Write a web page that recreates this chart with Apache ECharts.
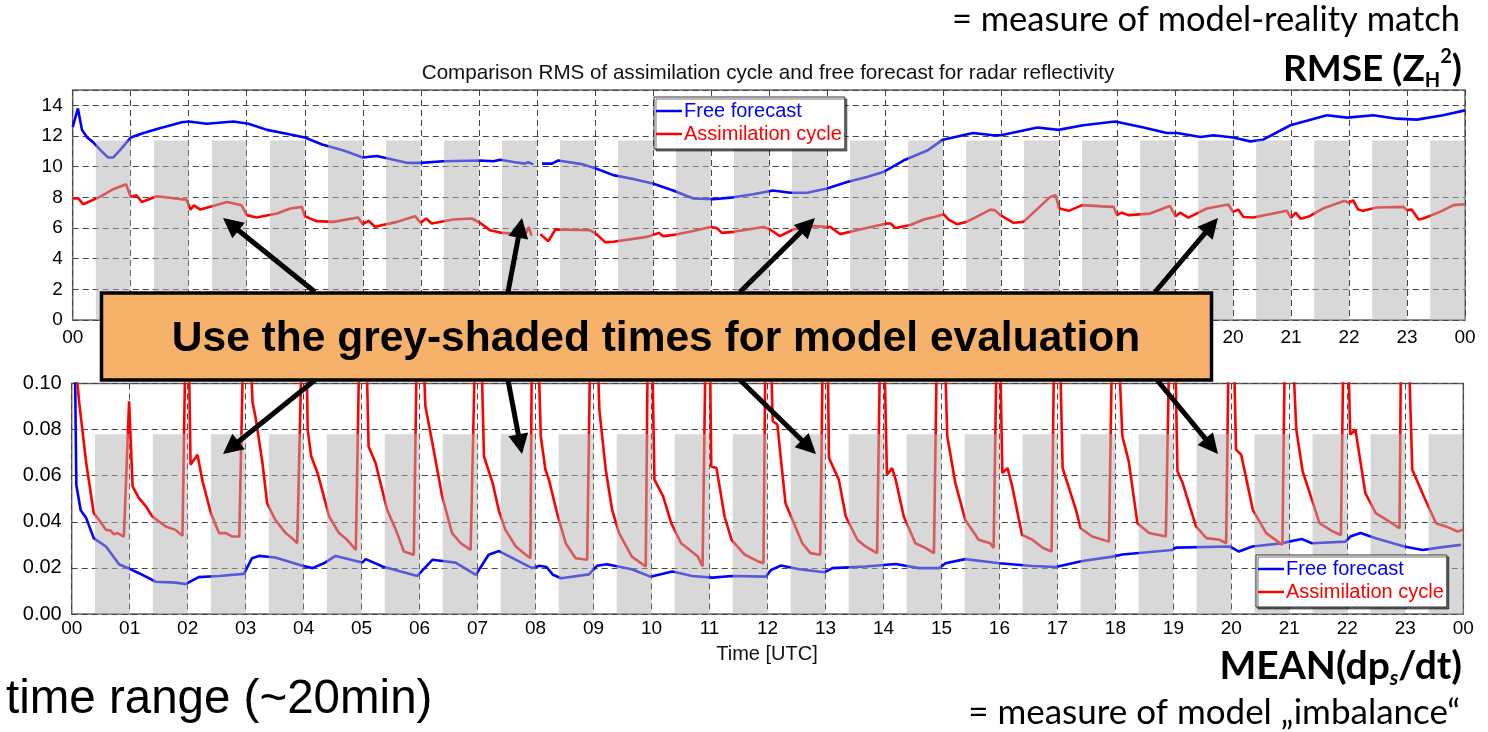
<!DOCTYPE html>
<html>
<head>
<meta charset="utf-8">
<script src="https://cdn.jsdelivr.net/npm/echarts@6/dist/echarts.min.js"></script>
<style>
html,body{margin:0;padding:0;background:#fff;}
#chart{width:1488px;height:732px;}
</style>
</head>
<body>
<div id="chart"></div>
<script>
// ---------------- DATA ----------------
const hourLabels = ['00','01','02','03','04','05','06','07','08','09','10','11','12','13','14','15','16','17','18','19','20','21','22','23','00'];

// grey-shaded evaluation windows (hours UTC)
const shadeStart = [0.4,1.4,2.4,3.4,4.4,5.4,6.4,7.4,8.4,9.4,10.4,11.4,12.4,13.4,14.4,15.4,16.4,17.4,18.4,19.4,20.4,21.4,22.4,23.4];
const shadeEnd   = [1,2,3,4,5,6,7,8,9,10,11,12,13,14,15,16,17,18,19,20,21,22,23,24];
const shadeTopRmse = 11.7;
const shadeTopMean = 0.078;

// RMSE panel - free forecast
const rmseFreeT = [0,0.09,0.16,0.25,0.35,0.5,0.61,0.7,0.82,1.0,1.22,1.5,1.88,2.0,2.31,2.77,3.03,3.35,3.69,4.0,4.3,4.67,5.0,5.24,5.47,5.76,6.0,6.39,7.02,7.25,7.37,7.6,7.8,7.85,7.94,8.0,8.09,8.26,8.37,8.8,9.04,9.32,9.66,10.0,10.35,10.7,11.04,11.39,11.73,12.07,12.37,12.66,13.0,13.35,13.69,13.97,14.32,14.73,15.0,15.52,15.87,16.0,16.63,16.99,17.42,17.97,18.46,18.86,19.04,19.44,19.67,20.0,20.3,20.52,20.99,21.62,21.97,22.42,22.83,23.17,23.62,24.0];
const rmseFreeV = [12.6,13.8,12.4,11.9,11.6,11.0,10.6,10.6,11.1,11.9,12.2,12.5,12.9,12.95,12.8,12.95,12.8,12.4,12.15,11.9,11.45,11.05,10.6,10.7,10.5,10.25,10.25,10.35,10.4,10.35,10.45,10.3,10.2,10.3,10.15,null,10.2,10.2,10.4,10.15,9.85,9.45,9.2,8.9,8.45,7.92,7.88,8.0,8.2,8.45,8.3,8.3,8.57,9.0,9.33,9.65,10.4,11.05,11.76,12.2,12.05,12.05,12.55,12.4,12.7,12.95,12.55,12.2,12.2,11.93,12.05,11.9,11.65,11.76,12.7,13.35,13.2,13.35,13.13,13.07,13.35,13.67];

// RMSE panel - assimilation cycle
const rmseAssimT = [0,0.1,0.18,0.47,0.7,0.92,1.0,1.1,1.19,1.45,1.91,1.96,2.03,2.09,2.2,2.66,2.91,3.0,3.17,3.52,3.75,3.95,4.0,4.2,4.49,4.92,5.0,5.1,5.21,5.59,5.9,6.0,6.09,6.19,6.56,6.88,7.02,7.19,7.37,7.8,7.86,7.91,7.98,8.06,8.2,8.32,8.92,9.03,9.18,9.32,9.9,10.1,10.18,10.36,10.7,10.99,11.1,11.19,11.39,11.91,12.02,12.19,12.42,12.77,13.06,13.23,13.57,14.03,14.1,14.18,14.44,14.67,14.85,15.01,15.1,15.24,15.41,15.82,15.9,15.99,16.22,16.39,16.85,16.94,17.01,17.17,17.4,17.89,17.94,18.0,18.08,18.2,18.57,18.91,19.01,19.09,19.23,19.55,19.92,20.0,20.09,20.18,20.35,20.93,21.0,21.08,21.17,21.32,21.55,21.92,22.0,22.07,22.16,22.24,22.48,22.94,23.0,23.08,23.2,23.28,23.57,23.8,24.0];
const rmseAssimV = [7.92,7.92,7.55,8.03,8.53,8.85,8.03,8.14,7.7,8.07,7.86,7.86,7.2,7.48,7.2,7.7,7.48,6.84,6.68,6.94,7.27,7.38,6.77,6.45,6.4,6.68,6.25,6.47,6.08,6.4,6.77,6.34,6.62,6.29,6.55,6.62,6.34,5.86,5.7,5.55,6.07,5.5,null,5.6,5.14,5.9,5.85,5.6,5.06,5.1,5.42,5.68,5.47,5.55,5.81,6.07,6.0,5.68,5.75,6.07,5.9,5.47,5.9,6.12,6.07,5.6,5.9,6.29,6.29,6.0,6.2,6.55,6.72,6.9,6.55,6.25,6.4,7.2,7.15,6.84,6.34,6.4,8.03,8.14,7.27,7.12,7.49,7.38,7.4,6.84,7.0,6.84,6.94,7.44,6.77,7.0,6.68,7.27,7.53,7.05,7.2,6.72,6.68,7.12,6.66,7.0,6.6,6.77,7.27,7.77,7.65,7.81,7.2,7.12,7.34,7.38,7.16,7.2,6.55,6.62,7.05,7.49,7.55];

// MEAN(dps/dt) panel - free forecast
const meanFreeT = [0,0.06,0.08,0.155,0.25,0.38,0.59,0.82,1.0,1.16,1.45,1.79,1.96,2.19,2.54,2.97,3.11,3.23,3.51,3.98,4.15,4.35,4.55,5.01,5.07,5.36,5.96,6.22,6.62,6.97,7.19,7.37,7.94,8.07,8.19,8.3,8.44,8.92,9.06,9.23,9.66,9.98,10.36,10.7,11.05,11.39,11.97,12.06,12.23,12.55,12.98,13.12,13.69,14.21,14.61,14.96,15.07,15.41,16.0,16.57,16.97,17.43,17.95,18.12,18.98,19.04,19.97,20.13,20.36,20.88,20.99,21.22,21.39,21.97,22.05,22.23,22.49,22.98,23.3,23.64,23.96];
const meanFreeV = [0.14,0.10,0.056,0.045,0.0416,0.0329,0.0293,0.0215,0.0196,0.0177,0.014,0.0136,0.013,0.016,0.0165,0.0174,0.0242,0.0252,0.0245,0.0209,0.0199,0.022,0.0252,0.0223,0.0238,0.0206,0.0165,0.0235,0.0223,0.017,0.0257,0.0273,0.0199,0.0209,0.0204,0.017,0.0155,0.0172,0.0209,0.0216,0.0194,0.0162,0.0184,0.0165,0.0158,0.0165,0.0162,0.0191,0.021,0.0194,0.0181,0.0199,0.0206,0.0217,0.0199,0.0199,0.022,0.0238,0.022,0.0208,0.0204,0.023,0.0249,0.0258,0.0278,0.0288,0.0293,0.0271,0.0293,0.0307,0.0314,0.0325,0.0307,0.0314,0.0336,0.0351,0.0329,0.0293,0.0278,0.029,0.03];

// MEAN(dps/dt) panel - assimilation cycle (values above 0.10 leave the plot)
const meanAssimT = [0,0.06,0.13,0.25,0.38,0.47,0.59,0.67,0.73,0.79,0.9,0.93,0.99,1.05,1.16,1.28,1.39,1.62,1.79,1.91,1.97,2.01,2.05,2.17,2.25,2.4,2.54,2.66,2.77,2.89,2.97,3.05,3.12,3.17,3.29,3.37,3.51,3.69,3.8,3.89,3.98,4.04,4.07,4.13,4.24,4.44,4.61,4.75,4.9,4.97,5.07,5.12,5.24,5.44,5.59,5.73,5.9,5.96,6.04,6.1,6.22,6.39,6.56,6.71,6.88,6.97,7.05,7.11,7.26,7.37,7.48,7.66,7.83,7.91,7.94,8.03,8.09,8.17,8.23,8.37,8.52,8.69,8.89,8.95,9.05,9.1,9.21,9.32,9.44,9.66,9.9,9.94,10.0,10.05,10.2,10.34,10.51,10.8,10.88,10.94,11.0,11.03,11.12,11.26,11.38,11.61,11.84,11.93,11.97,12.04,12.09,12.17,12.31,12.43,12.6,12.74,12.91,12.96,13.03,13.06,13.23,13.35,13.55,13.69,13.89,13.95,14.0,14.06,14.15,14.21,14.35,14.55,14.73,14.87,14.93,15.04,15.1,15.24,15.41,15.64,15.84,15.9,15.96,16.0,16.05,16.14,16.22,16.39,16.57,16.75,16.9,16.95,17.03,17.09,17.32,17.4,17.6,17.89,17.95,18.03,18.12,18.23,18.38,18.58,18.87,18.94,19.02,19.07,19.16,19.39,19.57,19.8,19.91,19.96,20.03,20.08,20.17,20.37,20.6,20.88,20.93,21.03,21.12,21.23,21.52,21.75,21.89,21.94,22.0,22.05,22.14,22.31,22.49,22.72,22.9,22.93,23.04,23.12,23.32,23.53,23.7,23.9,24.0];
const meanAssimV = [0.13,0.11,0.0916,0.0655,0.0438,0.0409,0.0365,0.0362,0.0346,0.0351,0.0336,0.034,0.0923,0.0554,0.0503,0.0467,0.0423,0.038,0.0365,0.0339,0.13,0.13,0.0648,0.0691,0.0583,0.0438,0.0351,0.0351,0.0336,0.0336,0.13,0.13,0.0916,0.0855,0.0655,0.0481,0.0409,0.0351,0.0329,0.0307,0.13,0.13,0.08,0.0684,0.0612,0.0423,0.0351,0.0322,0.0278,0.13,0.13,0.0727,0.0655,0.0452,0.0365,0.0271,0.0257,0.13,0.13,0.0901,0.0742,0.051,0.0351,0.0307,0.0278,0.13,0.13,0.0684,0.0568,0.0445,0.0365,0.0293,0.0257,0.0242,0.13,0.13,0.0771,0.0626,0.0583,0.0438,0.0307,0.0242,0.0235,0.13,0.13,0.0887,0.0626,0.0452,0.0351,0.0249,0.0206,0.13,0.13,0.0583,0.051,0.0394,0.0307,0.0249,0.0206,0.13,0.13,0.064,0.0633,0.0423,0.0322,0.0257,0.0228,0.022,0.13,0.13,0.0836,0.0822,0.0481,0.0409,0.0307,0.0264,0.0257,0.13,0.13,0.0677,0.0583,0.0423,0.0322,0.0293,0.0264,0.13,0.13,0.0604,0.0633,0.0583,0.0423,0.0307,0.0286,0.0264,0.13,0.13,0.0771,0.0568,0.0409,0.0322,0.0307,0.0286,0.13,0.13,0.0612,0.0633,0.0554,0.0343,0.0322,0.0286,0.0271,0.13,0.13,0.0633,0.0452,0.0372,0.0336,0.0314,0.13,0.13,0.0771,0.0662,0.0394,0.0351,0.0336,0.13,0.13,0.0619,0.0568,0.038,0.0329,0.0322,0.0307,0.13,0.13,0.0713,0.0691,0.0452,0.0351,0.03,0.13,0.13,0.08,0.0619,0.0394,0.0358,0.0343,0.13,0.13,0.0778,0.08,0.0525,0.0438,0.0402,0.0372,0.13,0.13,0.0626,0.051,0.0394,0.038,0.0358,0.0365];

// ---------------- CHART ----------------
const BLUE = '#0000ff', RED = '#ff0000';
const FONT = 'Liberation Sans';
const chart = echarts.init(document.getElementById('chart'), null, {renderer: 'canvas'});

function pairs(t, v) { return t.map((x, i) => [x, v[i]]); }
function shadeData(top) { return shadeStart.map((s, i) => [s, shadeEnd[i], top]); }
function shadeRender(params, api) {
  const p0 = api.coord([api.value(0), 0]);
  const p1 = api.coord([api.value(1), api.value(2)]);
  return {type: 'rect', shape: {x: p0[0], y: p1[1], width: p1[0] - p0[0], height: p0[1] - p1[1]},
          style: {fill: 'rgba(178,178,178,0.5)'}};
}

const xAxisBase = (gi, margin) => ({
  gridIndex: gi, type: 'value', min: 0, max: 24, interval: 1,
  axisLine: {show: false}, axisTick: {show: false},
  axisLabel: {formatter: v => hourLabels[Math.round(v)], fontSize: 19, fontFamily: FONT, color: '#000', margin: margin},
  splitLine: {show: true, lineStyle: {type: [6, 4], color: '#444', width: 1}}
});
const yAxisBase = (gi) => ({
  gridIndex: gi, type: 'value', axisLine: {show: false}, axisTick: {show: false},
  splitLine: {show: true, lineStyle: {type: [6, 4], color: '#444', width: 1}}
});

// arrows (annotation layout, pixel positions)
const arrowLayout = [
  [315,292,223,218],[508,292,522,218],[740,292,815,218],[1155,292,1218,218],
  [315,380,223,454],[508,380,522,454],[740,380,816,454],[1157,380,1218,454]
];
function arrowEls(a) {
  const [x1,y1,x2,y2] = a;
  const dx = x2-x1, dy = y2-y1, L = Math.hypot(dx,dy), ux = dx/L, uy = dy/L;
  const hl = 20, hw = 10;
  const bx = x2 - ux*hl, by = y2 - uy*hl;
  return [
    {type:'line', z:100, shape:{x1:x1,y1:y1,x2:bx+ux*2,y2:by+uy*2}, style:{stroke:'#000', lineWidth:5}},
    {type:'polygon', z:100, shape:{points:[[x2,y2],[bx-uy*hw,by+ux*hw],[bx+uy*hw,by-ux*hw]]}, style:{fill:'#000'}}
  ];
}

const graphics = [
  {type:'text', z:100, x:768, y:73, style:{text:'Comparison RMS of assimilation cycle and free forecast for radar reflectivity', fontSize:20.6, fontFamily:FONT, fill:'#111', align:'center', verticalAlign:'middle'}},
  {type:'text', z:100, x:767, y:654, style:{text:'Time [UTC]', fontSize:20, fontFamily:FONT, fill:'#111', align:'center', verticalAlign:'middle'}},
  {type:'text', z:100, x:1460, y:20, style:{text:'= measure of model-reality match', fontSize:34.5, fontFamily:'Lato', fill:'#000', align:'right', verticalAlign:'middle'}},
  {type:'text', z:100, x:1462, y:69, style:{text:'{m|RMSE (Z}{s|H}{p|2}{m|)}', align:'right', verticalAlign:'middle', rich:{
      m:{fontSize:37, fontWeight:'bold', fontFamily:'Lato', color:'#000', lineHeight:44, verticalAlign:'middle'},
      s:{fontSize:20, fontWeight:'bold', fontFamily:'Lato', color:'#000', lineHeight:44, verticalAlign:'bottom'},
      p:{fontSize:20, fontWeight:'bold', fontFamily:'Lato', color:'#000', lineHeight:44, verticalAlign:'top'}
  }}},
  {type:'text', z:100, x:1462, y:666, style:{text:'{m|MEAN(dp}{s|s}{m|/dt)}', align:'right', verticalAlign:'middle', rich:{
      m:{fontSize:39, fontWeight:'bold', fontFamily:'Lato', color:'#000', lineHeight:46, verticalAlign:'middle'},
      s:{fontSize:21, fontWeight:'bold', fontStyle:'italic', fontFamily:'Lato', color:'#000', lineHeight:46, verticalAlign:'bottom'}
  }}},
  {type:'text', z:100, x:1460, y:713, style:{text:'= measure of model \u201Eimbalance\u201C', fontSize:35, fontFamily:'Lato', fill:'#000', align:'right', verticalAlign:'middle'}},
  {type:'text', z:100, x:6, y:700, style:{text:'time range (~20min)', fontSize:47.5, fontFamily:FONT, fill:'#000', align:'left', verticalAlign:'middle'}},
  {type:'rect', z:99, shape:{x:101.5, y:293, width:1110, height:87}, style:{fill:'#f6b26b', stroke:'#000', lineWidth:3.5}},
  {type:'text', z:100, x:656, y:339, style:{text:'Use the grey-shaded times for model evaluation', fontSize:42.5, fontWeight:'bold', fontFamily:FONT, fill:'#000', align:'center', verticalAlign:'middle'}}
];
arrowLayout.forEach(a => graphics.push(...arrowEls(a)));

const legendBase = (left, top) => ({
  z: 20,
  left: left, top: top, orient: 'vertical', icon: 'rect', itemWidth: 26, itemHeight: 2.5, itemGap: 3,
  backgroundColor: '#fff', borderColor: '#333', borderWidth: 1, padding: [4, 3, 5, 2],
  shadowColor: 'rgba(0,0,0,0.55)', shadowOffsetX: 2, shadowOffsetY: 2, shadowBlur: 0,
  textStyle: {fontSize: 20, fontFamily: FONT, padding: [0, 0, 0, -3]},
  data: [{name: 'Free forecast', textStyle: {color: BLUE}}, {name: 'Assimilation cycle', textStyle: {color: RED}}]
});

const LW = 2.6;
const option = {
  animation: false,
  backgroundColor: '#fff',
  grid: [
    {left: 72.7, right: 1488 - 1465, top: 90, height: 230, show: true, borderColor: '#666', borderWidth: 1.5, backgroundColor: '#fff'},
    {left: 71.7, right: 1488 - 1463.3, top: 383.5, height: 230.5, show: true, borderColor: '#666', borderWidth: 1.5, backgroundColor: '#fff'}
  ],
  xAxis: [xAxisBase(0, 8), xAxisBase(1, 5)],
  yAxis: [
    Object.assign(yAxisBase(0), {min: 0, max: 15, interval: 2,
      axisLabel: {showMaxLabel: false, fontSize: 19, fontFamily: FONT, color: '#000', margin: 10}}),
    Object.assign(yAxisBase(1), {min: 0, max: 0.1, interval: 0.02,
      axisLabel: {formatter: v => v.toFixed(2), fontSize: 20, fontFamily: FONT, color: '#000', margin: 10}})
  ],
  legend: [legendBase(654, 97), legendBase(1256, 555)],
  series: [
    {type: 'line', name: 'Free forecast', xAxisIndex: 0, yAxisIndex: 0, data: pairs(rmseFreeT, rmseFreeV), showSymbol: false, lineStyle: {color: BLUE, width: LW}, itemStyle: {color: BLUE}, z: 3},
    {type: 'line', name: 'Assimilation cycle', xAxisIndex: 0, yAxisIndex: 0, data: pairs(rmseAssimT, rmseAssimV), showSymbol: false, lineStyle: {color: RED, width: LW}, itemStyle: {color: RED}, z: 3},
    {type: 'line', name: 'Free forecast', xAxisIndex: 1, yAxisIndex: 1, data: pairs(meanFreeT, meanFreeV), showSymbol: false, lineStyle: {color: BLUE, width: LW}, itemStyle: {color: BLUE}, z: 3},
    {type: 'line', name: 'Assimilation cycle', xAxisIndex: 1, yAxisIndex: 1, data: pairs(meanAssimT, meanAssimV), showSymbol: false, lineStyle: {color: RED, width: LW}, itemStyle: {color: RED}, z: 3},
    {type: 'custom', xAxisIndex: 0, yAxisIndex: 0, data: shadeData(shadeTopRmse), renderItem: shadeRender, z: 5, silent: true, encode: {x: [0, 1], y: 2}},
    {type: 'custom', xAxisIndex: 1, yAxisIndex: 1, data: shadeData(shadeTopMean), renderItem: shadeRender, z: 5, silent: true, encode: {x: [0, 1], y: 2}}
  ],
  graphic: graphics
};
chart.setOption(option);
</script>
</body>
</html>
